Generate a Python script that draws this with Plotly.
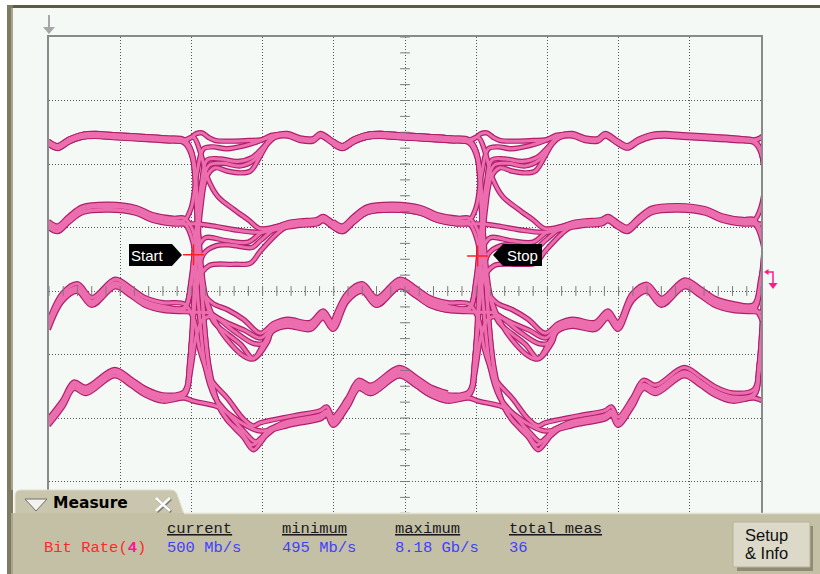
import numpy as np
import plotly.graph_objects as go

# ---------------------------------------------------------------------------
# Record geometry (screen divisions): 10 horizontal x 8 vertical
# one symbol = 4 divisions, symbol edges at 2 and 6, record ends at 10
# ---------------------------------------------------------------------------
PERIOD = 4.0
EDGES = [2.0, 6.0]
X_RANGE = [0.0, 10.0]
Y_RANGE = [-4.0, 4.0]

# Settled waveform of each PAM-4 level, time after the symbol edge (div) / amplitude (div)
L3_T = [0.97, 1.18, 1.35, 1.53, 1.71, 1.81, 1.99, 2.12, 2.28, 2.45, 2.65, 2.9, 3.22, 3.64, 3.9]
L3_V = [2.38, 2.44, 2.46, 2.39, 2.38, 2.46, 2.34, 2.27, 2.37, 2.44, 2.46, 2.44, 2.42, 2.39, 2.36]
L2_T = [0.97, 1.35, 1.53, 1.76, 1.85, 1.99, 2.12, 2.28, 2.47, 2.84, 3.22, 3.45, 3.75, 3.9]
L2_V = [0.96, 1.04, 1.07, 1.09, 1.14, 1.04, 0.97, 1.12, 1.27, 1.31, 1.26, 1.15, 1.09, 1.09]
L1_T = [0.97, 1.15, 1.35, 1.67, 1.85, 1.99, 2.19, 2.4, 2.6, 2.93, 3.15, 3.35, 3.6, 3.9]
L1_V = [-0.72, -0.57, -0.50, -0.55, -0.37, -0.55, -0.1, 0.05, -0.17, 0.12, -0.02, -0.17, -0.25, -0.27]
L0_T = [0.97, 1.44, 1.81, 1.9, 1.99, 2.19, 2.35, 2.52, 2.92, 3.15, 3.35, 3.6, 3.9]
L0_V = [-2.14, -2.03, -1.95, -1.89, -2.05, -1.76, -1.47, -1.55, -1.27, -1.42, -1.57, -1.67, -1.62]

# Edge crossings: path from one level to the next around a symbol edge
P33_T = [-0.1, 0.0, 0.07, 0.15, 0.24, 0.34, 0.55, 0.8]
P33_V = [2.36, 2.42, 2.48, 2.49, 2.42, 2.37, 2.36, 2.37]
P23_T = [-0.1, 0.0, 0.08, 0.17, 0.3, 0.5, 0.75, 0.97, 1.12]
P23_V = [1.09, 1.3, 1.85, 2.22, 2.25, 2.22, 2.27, 2.35, 2.43]
P13_T = [-0.1, -0.02, 0.06, 0.14, 0.22, 0.4, 0.65, 0.85, 1.05]
P13_V = [-0.27, 0.0, 0.9, 1.7, 2.08, 2.1, 2.06, 2.12, 2.33]
P13B_T = [-0.1, 0.0, 0.08, 0.16, 0.26, 0.45, 0.69, 0.88, 1.08]
P13B_V = [-0.27, 0.2, 1.1, 1.75, 1.98, 2.0, 1.96, 2.05, 2.35]
P03_T = [-0.1, -0.03, 0.05, 0.13, 0.21, 0.33, 0.5, 0.69, 0.83, 0.95, 1.07]
P03_V = [-1.62, -1.2, 0.2, 1.3, 1.8, 1.95, 1.9, 1.87, 1.9, 2.1, 2.33]

P32_T = [-0.1, 0.03, 0.13, 0.22, 0.37, 0.59, 0.8]
P32_V = [2.36, 2.4, 2.15, 1.78, 1.47, 1.27, 1.1]
P22_T = [-0.1, 0.1, 0.35, 0.6]
P22_V = [1.09, 1.09, 1.05, 1.0]
P12_T = [-0.1, 0.0, 0.1, 0.2, 0.5, 0.8, 0.97, 1.15]
P12_V = [-0.27, 0.15, 0.7, 0.84, 0.79, 0.77, 0.91, 1.0]
P02_T = [-0.1, -0.02, 0.08, 0.17, 0.35, 0.55, 0.85, 0.97, 1.2]
P02_V = [-1.62, -1.1, 0.1, 0.55, 0.68, 0.69, 0.65, 0.76, 0.97]
P02B_T = [-0.1, 0.0, 0.1, 0.25, 0.59, 0.83, 0.97, 1.2]
P02B_V = [-1.62, -0.8, 0.2, 0.42, 0.44, 0.46, 0.65, 0.92]

P21_T = [-0.1, 0.02, 0.1, 0.17, 0.3, 0.51, 0.73]
P21_V = [1.09, 0.9, 0.4, -0.09, -0.25, -0.35, -0.5]
P11_T = [-0.1, 0.1, 0.27, 0.59, 0.87, 1.01]
P11_V = [-0.27, -0.28, -0.3, -0.57, -0.77, -0.77]
P31_T = [-0.1, 0.0, 0.08, 0.16, 0.31, 0.5, 0.69, 0.87, 1.01]
P31_V = [2.36, 2.2, 1.2, 0.1, -0.46, -0.65, -0.82, -1.04, -0.82]
P31B_T = [-0.1, 0.02, 0.1, 0.2, 0.37, 0.55, 0.73, 0.87, 1.07]
P31B_V = [2.36, 2.1, 0.9, -0.1, -0.57, -0.85, -1.04, -1.09, -0.82]
P01_T = [-0.1, -0.02, 0.07, 0.16, 0.3, 0.5, 0.75, 0.97]
P01_V = [-1.62, -1.3, -0.7, -0.45, -0.4, -0.5, -0.62, -0.74]

P10_T = [-0.1, 0.03, 0.12, 0.27, 0.51, 0.73, 0.87, 0.97]
P10_V = [-0.27, -0.5, -1.0, -1.45, -1.76, -2.08, -2.19, -2.14]
P20_T = [-0.1, 0.02, 0.1, 0.2, 0.33, 0.55, 0.75, 0.9, 1.05, 1.2]
P20_V = [1.09, 0.8, -0.2, -1.2, -1.65, -1.95, -2.2, -2.35, -2.25, -2.12]
P30_T = [-0.1, 0.0, 0.08, 0.16, 0.25, 0.4, 0.6, 0.73, 0.87, 0.97, 1.11, 1.3]
P30_V = [2.36, 2.2, 1.2, -0.2, -1.2, -1.85, -2.15, -2.3, -2.5, -2.39, -2.19, -2.07]
P30B_T = [-0.1, 0.02, 0.1, 0.18, 0.3, 0.5, 0.7, 0.85, 0.97, 1.1]
P30B_V = [2.36, 2.1, 0.9, -0.5, -1.5, -2.0, -2.2, -2.4, -2.3, -2.15]
P00_T = [-0.1, 0.03, 0.37, 0.73]
P00_V = [-1.62, -1.67, -1.76, -2.03]

# per-acquisition vertical scatter of each captured trace (div)
STRANDS = [0.0, 0.02, -0.02, 0.01, -0.01,
           0.02, -0.035, 0.0, 0.035, -0.02,
           0.055, -0.055, -0.02, 0.02, 0.0,
           0.065, -0.025, 0.0, -0.025, -0.065]

# Start / Stop cursor positions (div)
CURSOR_T = [2.03, 6.02]
CURSOR_V = [0.57, 0.55]

# Measurement readout
MEAS_NAME = "Bit Rate("
MEAS_SRC = "4"
MEAS_HEAD = ["current", "minimum", "maximum", "total meas"]
MEAS_VALS = ["500 Mb/s", "495 Mb/s", "8.18 Gb/s", "36"]

PROFILES = {3: (L3_T, L3_V), 2: (L2_T, L2_V), 1: (L1_T, L1_V), 0: (L0_T, L0_V)}
ARRIVALS = [
    (3, 3, P33_T, P33_V), (2, 3, P23_T, P23_V), (1, 3, P13_T, P13_V),
    (1, 3, P13B_T, P13B_V), (0, 3, P03_T, P03_V),
    (3, 2, P32_T, P32_V), (2, 2, P22_T, P22_V), (1, 2, P12_T, P12_V),
    (0, 2, P02_T, P02_V), (0, 2, P02B_T, P02B_V),
    (2, 1, P21_T, P21_V), (1, 1, P11_T, P11_V), (3, 1, P31_T, P31_V),
    (3, 1, P31B_T, P31B_V), (0, 1, P01_T, P01_V),
    (1, 0, P10_T, P10_V), (2, 0, P20_T, P20_V), (3, 0, P30_T, P30_V),
    (3, 0, P30B_T, P30B_V), (0, 0, P00_T, P00_V),
]

# ---------------------------------------------------------------------------
# colours
# ---------------------------------------------------------------------------
BG = "#f4f9f6"
GRID = "#555555"
BORDER = "#8a8a8a"
TRACE_DARK = "#b01f6c"
TRACE_PINK = "#ec6eae"
PANEL = "#c4c0a6"
TAB = "#cac6ad"
FRAME = "#7f7b62"
FRAME_TOP = "#5d5a46"
CURSOR = "#ff2020"
MARKER4 = "#ff1a8c"

W, H = 820, 574
ML, MT, MR, MB = 49, 37, 59, 29
PW, PH = W - ML - MR, H - MT - MB


def PX(x):
    return (x - ML) / PW


def PY(y):
    return (H - MB - y) / PH


def poly(points, close=True):
    s = "M " + " L ".join(f"{PX(x):.5f},{PY(y):.5f}" for x, y in points)
    return s + (" Z" if close else "")


def profile_points(level, lo, hi, shift):
    t, v = PROFILES[level]
    return [(a + shift, b) for a, b in zip(t, v) if lo <= a <= hi]


def leaving_path(src, dst):
    for s, d, t, v in ARRIVALS:
        if s == src and d == dst:
            return t, v
    return PROFILES[src]


fig = go.Figure()

# ---------------------------------------------------------------------------
# assemble the captured traces
# ---------------------------------------------------------------------------
paths = []
for edge in EDGES:
    for (src, dst, pt, pv), off in zip(ARRIVALS, STRANDS):
        pts = profile_points(src, 1.95, 3.85, edge - PERIOD)
        pts += [(edge + a, b) for a, b in zip(pt, pv)]
        pts += profile_points(dst, pt[-1] + 0.05, 3.85, edge)
        if edge == EDGES[-1]:
            rt, rv = leaving_path(dst, src)
            pts += [(edge + PERIOD + a, b) for a, b in zip(rt, rv) if a <= 0.12]
        xs = [p[0] for p in pts]
        ys = [p[1] + off for p in pts]
        paths.append((xs, ys))

for color, width in [(TRACE_DARK, 5.4), (TRACE_PINK, 3.0)]:
    for xs, ys in paths:
        fig.add_trace(go.Scatter(
            x=xs, y=ys, mode="lines",
            line=dict(color=color, width=width, shape="spline", smoothing=1.0),
            hoverinfo="skip"))

# centre-line graticule ticks
fig.add_trace(go.Scatter(
    x=np.arange(0, 10.001, 0.2), y=np.zeros(51), mode="markers",
    marker=dict(symbol="line-ns", size=7, line=dict(color="#7a7a7a", width=1)),
    hoverinfo="skip"))
fig.add_trace(go.Scatter(
    x=np.full(33, 5.0), y=np.arange(-4, 4.001, 0.25), mode="markers",
    marker=dict(symbol="line-ew", size=7, line=dict(color="#7a7a7a", width=1)),
    hoverinfo="skip"))

# cursors
fig.add_trace(go.Scatter(
    x=CURSOR_T, y=CURSOR_V, mode="markers",
    marker=dict(symbol="cross-thin", size=15, line=dict(color=CURSOR, width=1.5)),
    hoverinfo="skip"))

# ---------------------------------------------------------------------------
# screen furniture
# ---------------------------------------------------------------------------
shapes = []
annotations = []


def rect(x0, y0, x1, y1, fill, layer="above", line=None):
    shapes.append(dict(type="rect", xref="paper", yref="paper",
                       x0=PX(x0), x1=PX(x1), y0=PY(y1), y1=PY(y0),
                       fillcolor=fill, line=line or dict(width=0), layer=layer))


def path(d, fill=None, line_color=None, width=0, layer="above"):
    shapes.append(dict(type="path", xref="paper", yref="paper", path=d,
                       fillcolor=fill if fill else "rgba(0,0,0,0)",
                       line=dict(color=line_color or "rgba(0,0,0,0)", width=width),
                       layer=layer))


def text(x, y, s, size, color, family="Liberation Mono", anchor="left", align="left"):
    annotations.append(dict(x=PX(x), y=PY(y), xref="paper", yref="paper", text=s,
                            showarrow=False, xanchor=anchor, yanchor="middle",
                            align=align, borderpad=0,
                            font=dict(size=size, color=color, family=family)))


# outer bezel
rect(0, 0, 820, 5, "#ffffff", layer="below")
rect(0, 0, 7, 574, "#ffffff", layer="below")
rect(7, 5, 820, 8, FRAME_TOP, layer="below")
rect(7, 5, 13, 574, FRAME, layer="below")
rect(11, 8, 13, 574, "#a9a58c", layer="below")

# trigger position arrow
shapes.append(dict(type="line", xref="paper", yref="paper", x0=PX(49), x1=PX(49),
                   y0=PY(15), y1=PY(28), line=dict(color="#a6a6a6", width=2)))
path(poly([(43, 27), (55, 27), (49, 34)]), fill="#a6a6a6")

# channel reference marker at the right edge
path(poly([(764, 272), (768.5, 269), (768.5, 275)]), fill=MARKER4)
path(poly([(767, 272), (773, 272), (773, 284)], close=False), line_color=MARKER4, width=1.5)
path(poly([(768.5, 283), (777.5, 283), (773, 289)]), fill=MARKER4)

# Start / Stop flags
path(poly([(129, 244), (172, 244), (182, 255), (172, 266), (129, 266)]), fill="#000000")
path(poly([(493, 255), (503, 244), (542, 244), (542, 266), (503, 266)]), fill="#000000")
text(147, 255, "Start", 15, "#ffffff", family="Liberation Sans", anchor="center")
text(522, 255, "Stop", 15, "#ffffff", family="Liberation Sans", anchor="center")

# measurement panel
path("M {0},{1} L {0},{2} Q {0},{3} {4},{3} L {5},{3} Q {6},{3} {7},{8} L {9},{1} Z".format(
    f"{PX(15):.5f}", f"{PY(514):.5f}", f"{PY(496):.5f}", f"{PY(490):.5f}", f"{PX(21):.5f}",
    f"{PX(171):.5f}", f"{PX(175):.5f}", f"{PX(177):.5f}", f"{PY(494):.5f}", f"{PX(184):.5f}"),
    fill=TAB, line_color="#e2dfcf", width=1)
rect(7, 513, 820, 574, PANEL)
shapes.append(dict(type="line", xref="paper", yref="paper", x0=PX(184), x1=PX(820),
                   y0=PY(513.5), y1=PY(513.5), line=dict(color="#e2dfcf", width=1.5)))
rect(7, 490, 13, 574, FRAME)
rect(11, 513, 13, 574, "#a9a58c")

# collapse triangle and close cross on the tab
path(poly([(25, 499), (47, 499), (36, 511)]), fill="#f2f2ee", line_color="#6e6e6e", width=1)
for dx, col, wd in [(1, "#7a7a7a", 3), (0, "#ffffff", 2.5)]:
    shapes.append(dict(type="line", xref="paper", yref="paper", x0=PX(156 + dx), x1=PX(170 + dx),
                       y0=PY(498 + dx), y1=PY(511 + dx), line=dict(color=col, width=wd)))
    shapes.append(dict(type="line", xref="paper", yref="paper", x0=PX(170 + dx), x1=PX(156 + dx),
                       y0=PY(498 + dx), y1=PY(511 + dx), line=dict(color=col, width=wd)))
text(52, 503, "<b>Measure</b>", 15.5, "#000000", family="DejaVu Sans")

# Setup & Info button
path(poly([(737, 526), (813, 526), (813, 571), (737, 571)]), fill="#8f8b74")
path(poly([(733, 522), (810, 522), (810, 567), (733, 567)]), fill="#dcd9c9",
     line_color="#b7b39c", width=1)
text(744, 535, "Setup", 16.5, "#101010", family="Liberation Sans")
text(744, 553, "&amp; Info", 16.5, "#101010", family="Liberation Sans")

# readout text
text(43, 548, MEAS_NAME + f"<b><span style='color:#ff1493'>{MEAS_SRC}</span></b>)",
     15.5, "#ff2a2a")
for x0, head, val in zip([166, 281, 394, 508], MEAS_HEAD, MEAS_VALS):
    text(x0, 529, f"<u>{head}</u>", 15.5, "#1a1a1a")
    text(x0, 548, val, 15.5, "#3f3fff")

axis_common = dict(showgrid=True, gridcolor=GRID, griddash="1px,2px", gridwidth=1,
                   showticklabels=False, ticks="", zeroline=False, showline=True,
                   linecolor=BORDER, linewidth=2, mirror=True, fixedrange=True, dtick=1, tick0=0)

fig.update_layout(
    width=W, height=H, autosize=False,
    margin=dict(l=ML, r=MR, t=MT, b=MB, pad=0),
    paper_bgcolor=BG, plot_bgcolor=BG,
    showlegend=False, hovermode=False,
    xaxis=dict(range=X_RANGE, **axis_common),
    yaxis=dict(range=Y_RANGE, **axis_common),
    shapes=shapes, annotations=annotations,
)

fig.write_html("out.html")
